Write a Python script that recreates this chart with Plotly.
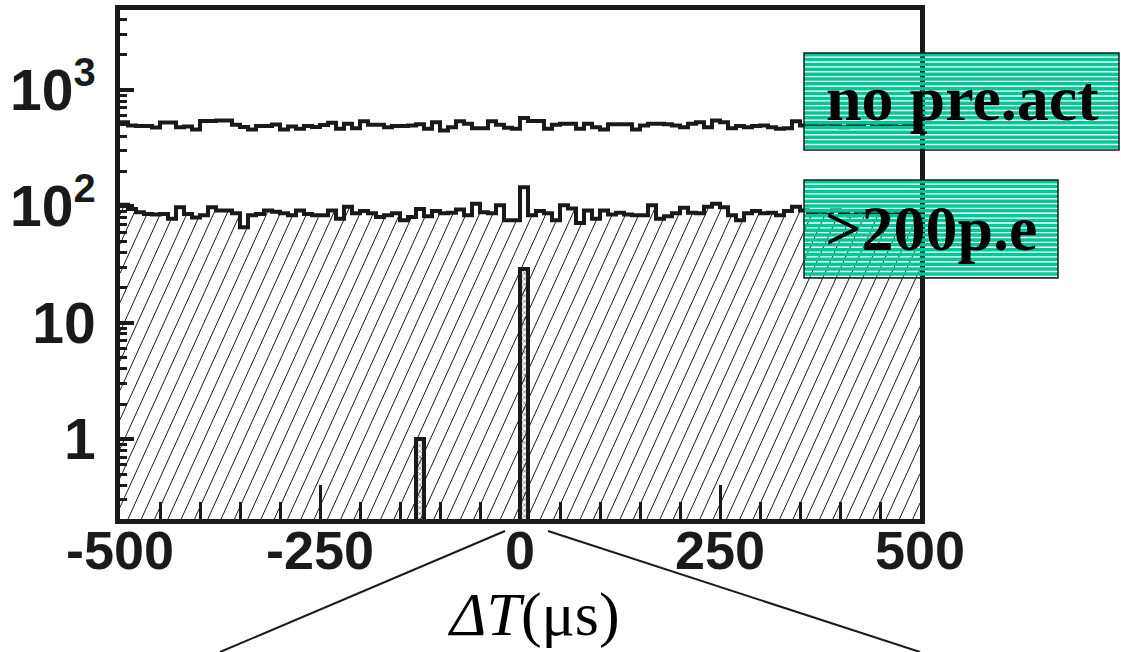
import numpy as np
import plotly.graph_objects as go

# ---------------- data ----------------
bin_edges = list(range(-500, 510, 10))  # 100 bins of 10 us

no_preact = [529, 495, 489, 489, 476, 526, 526, 479, 485, 458, 540, 540, 547, 547, 502, 480, 458, 489, 489, 505,
             458, 485, 465, 489, 480,
             500, 523, 464, 512, 469, 537, 502, 502, 479, 489, 489, 495, 506, 464, 529, 449, 479, 537, 512, 469,
             469, 537, 502, 473, 464,
             573, 540, 540, 464, 502, 512, 512, 464, 512, 479, 458, 506, 506, 506, 458, 495, 512, 512, 506, 495,
             479, 512, 529, 479, 547,
             529, 469, 489, 479, 489, 495, 479, 464, 469, 537, 495,
             500, 488, 512, 495, 478, 505, 492, 520, 486, 498, 510, 482, 500, 493]

gt200pe = [103, 95, 89, 86, 85, 86, 78, 98, 86, 80, 84, 98, 92, 92, 87, 66, 84, 86, 92, 90,
           87, 84, 92, 86, 84,
           84, 92, 78, 99, 87, 91, 87, 81, 84, 87, 76, 81, 95, 82, 91, 87, 88, 94, 84, 105,
           89, 87, 102, 76, 76,
           146, 84, 91, 87, 76, 102, 96, 72, 92, 78, 92, 85, 88, 85, 84, 84, 102, 78, 82, 87,
           97, 88, 87, 99, 105,
           98, 84, 76, 87, 91, 87, 88, 84, 91, 99, 92,
           88, 90, 85, 92, 87, 84, 90, 88, 86, 91, 85, 89, 87, 90]

small_x = [-125, 5]
small_y = [1, 29]

x_ticks = [-500, -250, 0, 250, 500]
y_tickvals = [1, 10, 100, 1000]
y_ticktext = ["1", "10", "10<sup>2</sup>", "10<sup>3</sup>"]

# ---------------- layout geometry ----------------
W, H = 1121, 652
L, R, T, B = 120, 201, 10, 133
PW, PH = W - L - R, H - T - B
YMIN, YMAX = -0.687, 3.687
INK = "#1a1a1a"
GREEN = "#00c896"


def px(xp):
    return (xp - L) / PW


def py(yp):
    return (H - B - yp) / PH


# step-line helper
def step_xy(vals):
    return bin_edges, list(vals) + [vals[-1]]


# ---------------- hatch lines for >200p.e histogram ----------------
px_per_us = PW / 1000.0
px_per_dec = PH / (YMAX - YMIN)
slope = 2.2
spacing = 13.3
hx, hy = [], []
mid = np.array(gt200pe, dtype=float)
for xb in np.arange(-PH / slope, PW + spacing, spacing):
    s = np.arange(0, PH, 0.1)
    xs = xb + s / slope
    ok = (xs >= 0) & (xs < PW)
    if not ok.any():
        continue
    s = s[ok]
    xs = xs[ok]
    logy = YMIN + s / px_per_dec
    idx = np.clip((xs / (10 * px_per_us)).astype(int), 0, len(mid) - 1)
    above = logy >= np.log10(mid[idx])
    if above.any():
        stop = np.argmax(above)
        if stop == 0:
            continue
        s = s[:stop + 1]
        xs = xs[:stop + 1]
        logy = logy[:stop + 1]
    hx += [-500 + xs[0] / px_per_us, -500 + xs[-1] / px_per_us, None]
    hy += [10 ** logy[0], 10 ** logy[-1], None]

fig = go.Figure()
fig.add_trace(go.Scatter(x=hx, y=hy, mode="lines", line=dict(color=INK, width=1),
                         hoverinfo="skip", showlegend=False))

sx, sy = step_xy(no_preact)
fig.add_trace(go.Scatter(x=sx, y=sy, mode="lines", line=dict(color=INK, width=4, shape="hv"),
                         name="no pre.act", showlegend=False))
sx, sy = step_xy(gt200pe)
fig.add_trace(go.Scatter(x=sx, y=sy, mode="lines", line=dict(color=INK, width=4, shape="hv"),
                         name=">200p.e", showlegend=False))

fig.add_trace(go.Bar(x=small_x, y=small_y, width=10,
                     marker=dict(color="white", line=dict(color=INK, width=4),
                                 pattern=dict(shape="x", fgcolor=INK, bgcolor="white", size=4, solidity=0.4)),
                     showlegend=False))

shapes = []
# legend boxes with striped fill (gaps transparent)
for (x0, y0, x1, y1) in [(804, 53, 1119, 150), (804, 180, 1058, 278)]:
    period = 4.85
    n = int((y1 - y0) / period) + 1
    for i in range(n):
        a = y0 + i * period
        b = min(a + 3.5, y1)
        if a >= y1:
            break
        shapes.append(dict(type="rect", xref="paper", yref="paper", layer="above",
                           x0=px(x0), x1=px(x1), y0=py(b), y1=py(a),
                           fillcolor=GREEN, line=dict(width=0)))
    shapes.append(dict(type="rect", xref="paper", yref="paper", layer="above",
                       x0=px(x0), x1=px(x1), y0=py(y1), y1=py(y0),
                       fillcolor="rgba(0,0,0,0)", line=dict(color=INK, width=1.5)))

# zoom indicator lines
for (a, b, c, d) in [(505, 531, 220, 652), (548, 531, 920, 652)]:
    shapes.append(dict(type="line", xref="paper", yref="paper", layer="above",
                       x0=px(a), y0=py(b), x1=px(c), y1=py(d),
                       line=dict(color=INK, width=2)))

annotations = [
    dict(text="<b>no pre.act</b>", xref="paper", yref="paper", x=px(962), y=py(99),
         showarrow=False, xanchor="center", yanchor="middle",
         font=dict(family="Liberation Serif, Times New Roman, serif", size=64, color="black")),
    dict(text="<b>>200p.e</b>", xref="paper", yref="paper", x=px(931), y=py(229),
         showarrow=False, xanchor="center", yanchor="middle",
         font=dict(family="Liberation Serif, Times New Roman, serif", size=64, color="black")),
    dict(text="<i>ΔT</i>(μs)", xref="paper", yref="paper", x=px(533), y=py(614),
         showarrow=False, xanchor="center", yanchor="middle",
         font=dict(family="Liberation Serif, Times New Roman, serif", size=62, color="black")),
]

minor_y = [m * 10 ** e for e in range(-1, 4) for m in range(2, 10)]
minor_y = [v for v in minor_y if 10 ** YMIN < v < 10 ** YMAX]

fig.update_layout(
    width=W, height=H,
    margin=dict(l=L, r=R, t=T, b=B, pad=0, autoexpand=False),
    paper_bgcolor="white", plot_bgcolor="white",
    showlegend=False,
    bargap=0,
    shapes=shapes,
    annotations=annotations,
    xaxis=dict(range=[-500, 500], tickvals=x_ticks, ticktext=[str(v) for v in x_ticks],
               ticks="inside", ticklen=34, tickwidth=3, tickcolor=INK,
               minor=dict(dtick=50, tick0=0, ticks="inside", ticklen=17, tickwidth=3, tickcolor=INK),
               showline=True, linewidth=5, linecolor=INK, mirror=True,
               showgrid=False, zeroline=False, automargin=False,
               tickfont=dict(family="Liberation Sans, Arial, sans-serif", size=54, color=INK, weight="bold"),
               ticklabelstandoff=-20),
    yaxis=dict(type="log", range=[YMIN, YMAX], tickvals=y_tickvals, ticktext=y_ticktext,
               ticks="inside", ticklen=14, tickwidth=4, tickcolor=INK,
               minor=dict(tickvals=minor_y, ticks="inside", ticklen=7, tickwidth=3, tickcolor=INK),
               showline=True, linewidth=5, linecolor=INK, mirror=True,
               showgrid=False, zeroline=False, automargin=False,
               tickfont=dict(family="Liberation Sans, Arial, sans-serif", size=57, color=INK, weight="bold"),
               ticklabelstandoff=8),
)

fig.write_html("out.html")
